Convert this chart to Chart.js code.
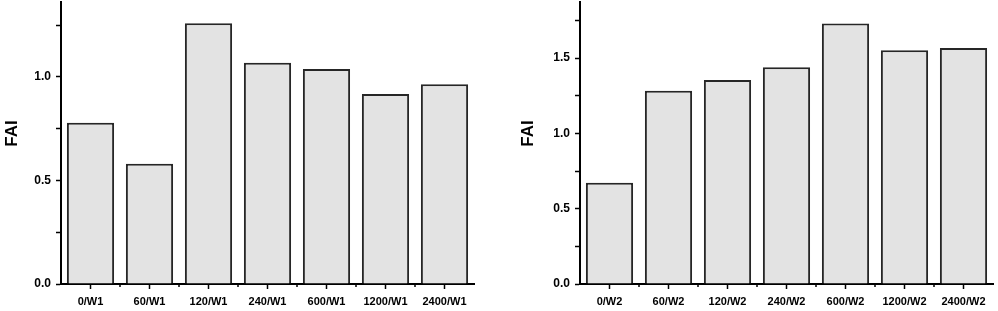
<!DOCTYPE html>
<html>
<head>
<meta charset="utf-8">
<script src="https://cdn.jsdelivr.net/npm/chart.js@4/dist/chart.umd.min.js"></script>
<style>
  html, body { margin: 0; padding: 0; background: #fff; }
  #wrap { position: relative; width: 998px; height: 311px; }
  canvas { position: absolute; top: 0; }
</style>
</head>
<body>
<div id="wrap">
  <canvas id="chartW1" width="482" height="311" style="left:0px"></canvas>
  <canvas id="chartW2" width="500" height="311" style="left:498px"></canvas>
</div>
<script>
// W1 panel
const labelsW1 = ['0/W1', '60/W1', '120/W1', '240/W1', '600/W1', '1200/W1', '2400/W1'];
const faiW1 = [0.779, 0.581, 1.259, 1.069, 1.039, 0.918, 0.965];

// W2 panel
const labelsW2 = ['0/W2', '60/W2', '120/W2', '240/W2', '600/W2', '1200/W2', '2400/W2'];
const faiW2 = [0.673, 1.284, 1.355, 1.439, 1.731, 1.552, 1.567];

const fontFamily = '"Liberation Sans", Arial, sans-serif';

// short minor ticks between categories on the x axis
const minorXTicks = {
    id: 'minorXTicks',
    afterDraw(chart) {
        const x = chart.scales.x;
        const ctx = chart.ctx;
        const n = chart.data.labels.length;
        ctx.save();
        ctx.strokeStyle = '#000';
        ctx.lineWidth = 1.5;
        ctx.beginPath();
        for (let i = 0; i < n - 1; i++) {
            const px = (x.getPixelForValue(i) + x.getPixelForValue(i + 1)) / 2;
            ctx.moveTo(px, x.top);
            ctx.lineTo(px, x.top + 3);
        }
        ctx.stroke();
        ctx.restore();
    },
};

function makeChart(canvasId, labels, values, yMax, axisWidth, titlePad, padRight) {
    return new Chart(document.getElementById(canvasId), {
        type: 'bar',
        data: {
            labels: labels,
            datasets: [{
                data: values,
                backgroundColor: '#e3e3e3',
                borderColor: '#262626',
                borderWidth: 2,
                categoryPercentage: 1.0,
                barPercentage: 0.8,
            }],
        },
        plugins: [minorXTicks],
        options: {
            responsive: false,
            animation: false,
            layout: { padding: { top: 2, right: padRight, left: 0, bottom: 0 } },
            plugins: { legend: { display: false }, tooltip: { enabled: false } },
            scales: {
                x: {
                    grid: { display: true, drawOnChartArea: false, drawTicks: true, tickLength: 5, tickWidth: 1.5, tickColor: '#000', offset: false },
                    border: { display: true, color: '#000', width: 2 },
                    ticks: { color: '#000', padding: 6, font: { family: fontFamily, size: 11, weight: 'bold' }, maxRotation: 0, autoSkip: false },
                    afterFit(scale) {
                        scale.height = 27;
                        scale.paddingLeft = 0;
                        scale.paddingRight = 0;
                    },
                },
                y: {
                    min: 0,
                    max: yMax,
                    grid: { display: true, drawOnChartArea: false, drawTicks: true, tickLength: 5, tickWidth: 1.5, tickColor: '#000' },
                    border: { display: true, color: '#000', width: 2 },
                    ticks: {
                        stepSize: 0.25,
                        color: '#000',
                        padding: 5,
                        font: { family: fontFamily, size: 12, weight: 'bold' },
                        callback: (v) => (Math.abs(v / 0.5 - Math.round(v / 0.5)) < 1e-6 ? v.toFixed(1) : ''),
                    },
                    afterBuildTicks(scale) {
                        scale.ticks = scale.ticks.filter(t => Math.abs(t.value / 0.25 - Math.round(t.value / 0.25)) < 1e-6);
                    },
                    afterFit(scale) {
                        scale.width = axisWidth;
                        scale.paddingTop = 0;
                        scale.paddingBottom = 0;
                    },
                    title: {
                        display: true,
                        text: '    FAI',
                        color: '#000',
                        padding: { top: titlePad, bottom: 0 },
                        font: { family: fontFamily, size: 17, weight: 'bold' },
                    },
                },
            },
        },
    });
}

makeChart('chartW1', labelsW1, faiW1, 1.362, 61, 2, 8);
makeChart('chartW2', labelsW2, faiW2, 1.873, 82, 20, 5);
</script>
</body>
</html>
